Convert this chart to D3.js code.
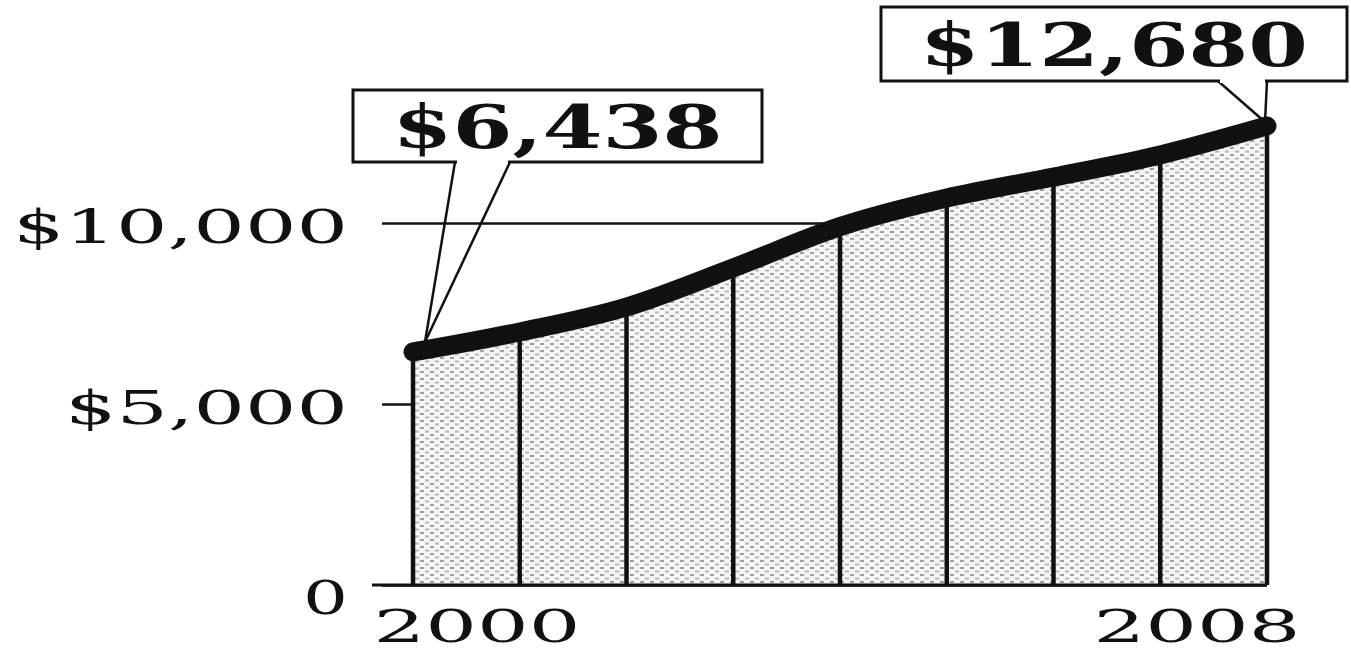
<!DOCTYPE html>
<html>
<head>
<meta charset="utf-8">
<script src="https://cdn.jsdelivr.net/npm/d3@7"></script>
<style>
  body { margin: 0; background: #fff; }
  svg { display: block; }
</style>
</head>
<body>
<svg id="chart"></svg>
<script>
// spending per year
var years = [2000, 2001, 2002, 2003, 2004, 2005, 2006, 2007, 2008];
var spending = [6438, 6990, 7680, 8760, 9900, 10690, 11270, 11880, 12680];
var yTicks = [0, 5000, 10000];
var yTickLabels = ["0", "$5,000", "$10,000"];
var xTicks = [2000, 2008];

var data = years.map(function(d, i) { return { year: d, value: spending[i] }; });

var svg = d3.select("#chart")
    .attr("width", 1351)
    .attr("height", 654);

var x = d3.scaleLinear().domain([2000, 2008]).range([413, 1267]);
var y = d3.scaleLinear().domain([0, 10000]).range([585, 223]);

// stipple for the shaded area
var defs = svg.append("defs");
var pat = defs.append("pattern")
    .attr("id", "stipple")
    .attr("patternUnits", "userSpaceOnUse")
    .attr("width", 10)
    .attr("height", 7);
pat.append("rect").attr("width", 10).attr("height", 7).attr("fill", "#f5f5f5");
pat.append("rect").attr("x", 0).attr("y", 0).attr("width", 4).attr("height", 2).attr("fill", "#a0a0a0");
pat.append("rect").attr("x", 5).attr("y", 3.5).attr("width", 4).attr("height", 2).attr("fill", "#bababa");

// y axis: ticks run all the way so $10,000 shows as a gridline above the area
var yAxis = svg.append("g")
    .attr("transform", "translate(" + x(2008) + ",0)")
    .call(d3.axisLeft(y)
        .tickValues(yTicks)
        .tickSize(x(2008) - 382)
        .tickPadding(34)
        .tickFormat(function(d, i) { return yTickLabels[i]; }));
yAxis.select(".domain").remove();
yAxis.selectAll("line").attr("stroke", "#111").attr("stroke-width", 2.5);
yAxis.selectAll("text")
    .attr("fill", "#111")
    .attr("font-family", "DejaVu Serif")
    .attr("font-size", 46)
    .attr("dy", function(d) { return d == 0 ? "0.62em" : "0.42em"; })
    .attr("textLength", function(d) { return d == 10000 ? 335 : d == 5000 ? 283 : 45; })
    .attr("lengthAdjust", "spacingAndGlyphs");

// shaded area
var area = d3.area()
    .x(function(d) { return x(d.year); })
    .y0(y(0))
    .y1(function(d) { return y(d.value); })
    .curve(d3.curveMonotoneX);

svg.append("path")
   .datum(data)
   .attr("d", area)
   .attr("fill", "url(#stipple)");

// vertical rules for each year
svg.selectAll(".rule")
   .data(data)
   .enter().append("line")
   .attr("class", "rule")
   .attr("x1", function(d) { return x(d.year); })
   .attr("x2", function(d) { return x(d.year); })
   .attr("y1", y(0))
   .attr("y2", function(d) { return y(d.value); })
   .attr("stroke", "#111")
   .attr("stroke-width", 4.5);

// baseline
svg.append("line")
   .attr("x1", 372)
   .attr("x2", x(2008))
   .attr("y1", y(0))
   .attr("y2", y(0))
   .attr("stroke", "#111")
   .attr("stroke-width", 3);

// x axis labels
var xAxis = svg.append("g")
    .attr("transform", "translate(0," + y(0) + ")")
    .call(d3.axisBottom(x).tickValues(xTicks).tickSize(0).tickPadding(24).tickFormat(d3.format("d")));
xAxis.select(".domain").remove();
xAxis.selectAll("text")
    .attr("fill", "#111")
    .attr("font-family", "DejaVu Serif")
    .attr("font-size", 45)
    .attr("dy", "0.73em")
    .attr("text-anchor", function(d) { return d == 2000 ? "start" : "end"; })
    .attr("dx", function(d) { return d == 2000 ? -40 : 33; })
    .attr("textLength", 207)
    .attr("lengthAdjust", "spacingAndGlyphs");

// the thick line
var line = d3.line()
    .x(function(d) { return x(d.year); })
    .y(function(d) { return y(d.value); })
    .curve(d3.curveMonotoneX);

svg.append("path")
   .datum(data)
   .attr("d", line)
   .attr("fill", "none")
   .attr("stroke", "#111")
   .attr("stroke-width", 19)
   .attr("stroke-linecap", "round");

// callouts for first and last values
var fmt = d3.format("$,");
var first = data[0], last = data[data.length - 1];

function callout(box, legs, tip, label, textW) {
    svg.append("rect")
       .attr("x", box[0]).attr("y", box[1])
       .attr("width", box[2]).attr("height", box[3])
       .attr("fill", "#fff")
       .attr("stroke", "#111")
       .attr("stroke-width", 3);
    legs.forEach(function(lx) {
        svg.append("line")
           .attr("x1", lx).attr("y1", box[1] + box[3])
           .attr("x2", tip[0]).attr("y2", tip[1])
           .attr("stroke", "#111")
           .attr("stroke-width", 2.5);
    });
    // white gap in the box bottom between the legs
    svg.append("line")
       .attr("x1", legs[0] + 2).attr("x2", legs[1] - 2)
       .attr("y1", box[1] + box[3]).attr("y2", box[1] + box[3])
       .attr("stroke", "#fff")
       .attr("stroke-width", 4);
    svg.append("text")
       .attr("x", box[0] + box[2] / 2)
       .attr("y", box[1] + box[3] / 2)
       .attr("dy", "0.36em")
       .attr("text-anchor", "middle")
       .attr("font-family", "DejaVu Serif")
       .attr("font-weight", "bold")
       .attr("font-size", 60)
       .attr("fill", "#111")
       .attr("textLength", textW)
       .attr("lengthAdjust", "spacingAndGlyphs")
       .text(label);
}

callout([353, 90, 409, 72], [455, 510], [x(first.year) + 12, y(first.value) - 10], fmt(first.value), 330);
callout([881, 7, 466, 74], [1218, x(last.year)], [x(last.year) - 2, y(last.value) - 4], fmt(last.value), 388);
</script>
</body>
</html>
